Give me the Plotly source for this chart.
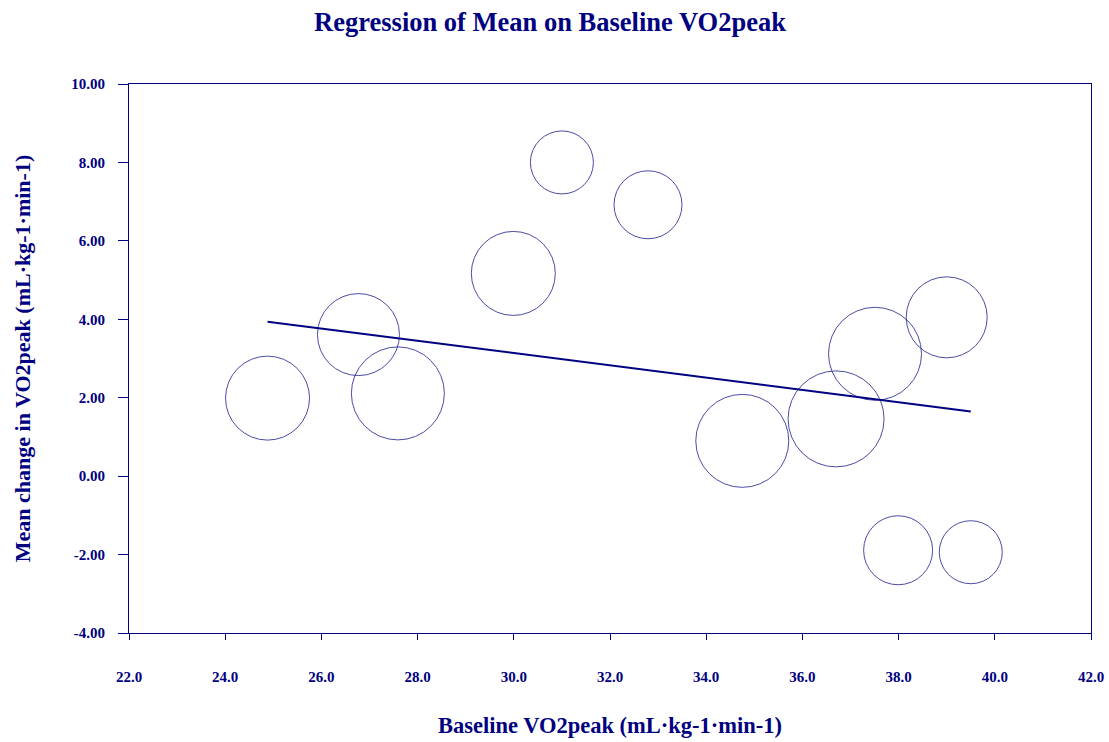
import plotly.graph_objects as go

# Data
baseline_vo2peak = [24.88, 26.77, 27.59, 29.99, 31.00, 32.79, 34.75, 36.70, 37.51, 39.00, 37.99, 39.50]
mean_change = [1.99, 3.61, 2.11, 5.17, 8.00, 6.92, 0.90, 1.46, 3.12, 4.05, -1.89, -1.94]
study_weight = [8.4, 8.2, 9.3, 8.4, 6.3, 6.8, 9.3, 9.6, 9.3, 8.1, 6.9, 6.3]

reg_intercept = 7.836
reg_slope = -0.1566

x_ticks = [22, 24, 26, 28, 30, 32, 34, 36, 38, 40, 42]
y_ticks = [-4, -2, 0, 2, 4, 6, 8, 10]

NAVY = "#000080"
FONT = "Liberation Serif, Times New Roman, serif"

fig = go.Figure()

fig.add_trace(go.Scatter(
    x=baseline_vo2peak,
    y=mean_change,
    mode="markers",
    marker=dict(
        symbol="circle",
        size=[w * 10 for w in study_weight],
        sizemode="diameter",
        color="rgba(0,0,0,0)",
        line=dict(color=NAVY, width=1),
    ),
    showlegend=False,
    hoverinfo="x+y",
))

x_line = [min(baseline_vo2peak), max(baseline_vo2peak)]
y_line = [reg_intercept + reg_slope * v for v in x_line]
fig.add_trace(go.Scatter(
    x=x_line, y=y_line, mode="lines",
    line=dict(color=NAVY, width=2),
    showlegend=False,
))

fig.update_layout(
    width=1109, height=742,
    margin=dict(l=129, r=18, t=84, b=109, autoexpand=False),
    paper_bgcolor="white",
    plot_bgcolor="white",
    font=dict(family=FONT, color=NAVY),
    title=dict(
        text="<b>Regression of Mean on Baseline VO2peak</b>",
        font=dict(family=FONT, size=26.5, color=NAVY),
        x=550 / 1109, xanchor="center",
        yref="container", y=1 - 22 / 742, yanchor="middle",
        automargin=False,
    ),
)

fig.update_xaxes(
    range=[22, 42],
    automargin=False,
    tickvals=x_ticks,
    ticktext=[f"<b>{v:.1f}</b>" for v in x_ticks],
    tickfont=dict(family=FONT, size=15, color=NAVY),
    ticks="outside", ticklen=6, tickcolor=NAVY, tickwidth=1,
    ticklabelstandoff=24,
    showline=True, linecolor=NAVY, linewidth=1, mirror=True,
    showgrid=False, zeroline=False,
    title=dict(text="<b>Baseline VO2peak (mL·kg-1·min-1)</b>",
               font=dict(family=FONT, size=22.5, color=NAVY), standoff=33),
)

fig.update_yaxes(
    range=[-4, 10],
    automargin=False,
    tickvals=y_ticks,
    ticktext=[f"<b>{v:.2f}</b>" for v in y_ticks],
    tickfont=dict(family=FONT, size=15, color=NAVY),
    ticks="outside", ticklen=10, tickcolor=NAVY, tickwidth=1,
    ticklabelstandoff=10,
    showline=True, linecolor=NAVY, linewidth=1, mirror=True,
    showgrid=False, zeroline=False,
    title=dict(text="<b>Mean change in VO2peak (mL·kg-1·min-1)</b>",
               font=dict(family=FONT, size=22, color=NAVY), standoff=34),
)

fig.write_html("out.html")
